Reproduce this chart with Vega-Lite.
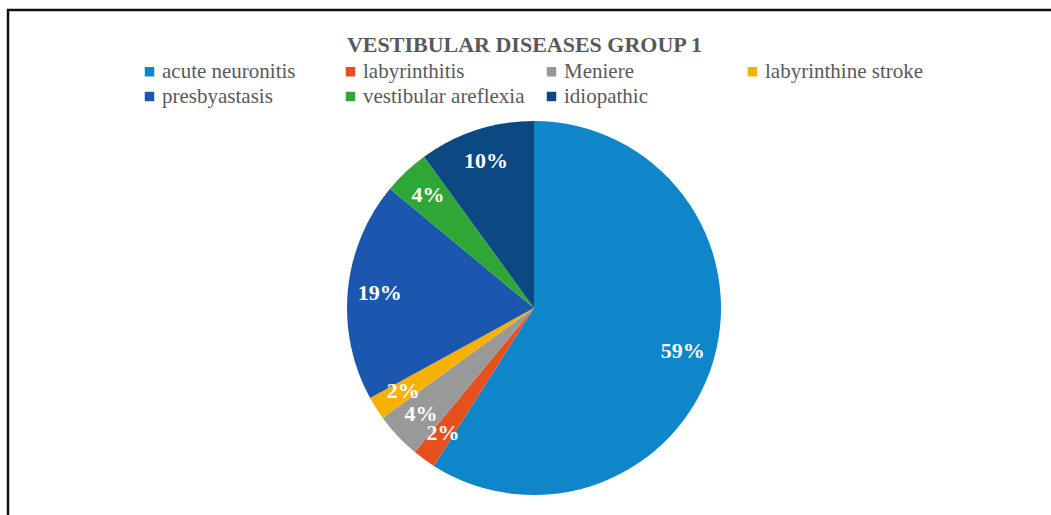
{
  "$schema": "https://vega.github.io/schema/vega-lite/v6.json",
  "autosize": {"type": "none"},
  "width": 1043,
  "height": 505,
  "padding": {"left": 8, "top": 10, "right": 0, "bottom": 0},
  "background": "white",
  "title": {
    "text": "VESTIBULAR DISEASES GROUP 1",
    "orient": "top",
    "anchor": "middle",
    "offset": -66,
    "dx": -5,
    "baseline": "alphabetic",
    "font": "Liberation Serif",
    "fontSize": 22,
    "fontWeight": "bold",
    "color": "#595959"
  },
  "layer": [
    {
      "data": {"values": [{"frame": "frame"}]},
      "mark": {"type": "rect", "fill": null, "stroke": "#111111", "strokeWidth": 2.5, "strokeCap": "square", "strokeDash": [1043, 1548, 506, 0]}
    },
    {
      "data": {
        "values": [
          {"idx": 1, "category": "acute neuronitis", "value": 59, "label": "59%"},
          {"idx": 2, "category": "labyrinthitis", "value": 2, "label": "2%"},
          {"idx": 3, "category": "Meniere", "value": 4, "label": "4%"},
          {"idx": 4, "category": "labyrinthine stroke", "value": 2, "label": "2%"},
          {"idx": 5, "category": "presbyastasis", "value": 19, "label": "19%"},
          {"idx": 6, "category": "vestibular areflexia", "value": 4, "label": "4%"},
          {"idx": 7, "category": "idiopathic", "value": 10, "label": "10%"}
        ]
      },
      "encoding": {
        "theta": {"field": "value", "type": "quantitative", "stack": true},
        "order": {"field": "idx", "type": "quantitative"}
      },
      "layer": [
        {
          "mark": {"type": "arc", "outerRadius": 187, "xOffset": 4.5, "yOffset": 45.5},
          "encoding": {
            "color": {
              "field": "category",
              "type": "nominal",
              "sort": null,
              "scale": {
                "domain": ["acute neuronitis", "labyrinthitis", "Meniere", "labyrinthine stroke", "presbyastasis", "vestibular areflexia", "idiopathic"],
                "range": ["#0F85CA", "#E5501E", "#999999", "#F7B100", "#1B56AF", "#2EA737", "#0C4881"]
              },
              "legend": {
                "title": null,
                "orient": "none",
                "legendX": 131,
                "legendY": 51,
                "direction": "horizontal",
                "columns": 4,
                "gridAlign": "all",
                "columnPadding": 16,
                "rowPadding": 3,
                "padding": 0,
                "symbolType": "square",
                "symbolSize": 90,
                "symbolStrokeWidth": 0,
                "symbolOpacity": 1,
                "labelOffset": 2,
                "labelFont": "Liberation Serif",
                "labelFontSize": 21,
                "labelColor": "#595959",
                "labelLimit": 300
              }
            }
          }
        },
        {
          "mark": {
            "type": "text",
            "radius": 155,
            "xOffset": 4.5,
            "yOffset": 45.5,
            "font": "Liberation Serif",
            "fontSize": 22,
            "fontWeight": "bold",
            "fill": "white"
          },
          "encoding": {
            "text": {"field": "label", "type": "nominal"}
          }
        }
      ]
    }
  ],
  "config": {
    "font": "Liberation Serif",
    "legend": {"labelFont": "Liberation Serif", "labelFontSize": 21, "labelColor": "#595959"},
    "view": {"stroke": null}
  }
}
